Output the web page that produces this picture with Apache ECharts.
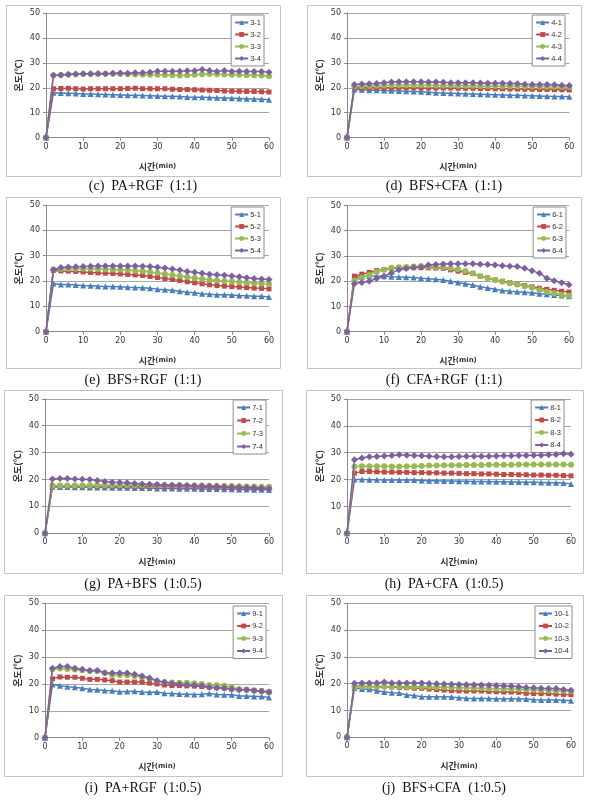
<!DOCTYPE html>
<html><head><meta charset="utf-8">
<script src="https://cdn.jsdelivr.net/npm/echarts@6/dist/echarts.min.js"></script>
<style>html,body{margin:0;padding:0;background:#fff}#c{width:592px;height:801px}</style>
</head><body><div id="c"></div>
<script>
const times = [0,2,4,6,8,10,12,14,16,18,20,22,24,26,28,30,32,34,36,38,40,42,44,46,48,50,52,54,56,58,60];
const yTicks = [0,10,20,30,40,50];
const xTicks = [0,10,20,30,40,50,60];

const s3_1 = [0,18.0,17.9,17.8,17.7,17.5,17.5,17.4,17.3,17.2,17.1,17.0,17.0,16.9,16.8,16.7,16.6,16.6,16.5,16.3,16.2,16.2,16.1,16.0,15.9,15.8,15.7,15.6,15.5,15.4,15.2];
const s3_2 = [0,19.6,19.7,19.8,19.6,19.5,19.6,19.6,19.6,19.6,19.6,19.7,19.8,19.6,19.6,19.6,19.6,19.4,19.3,19.3,19.2,19.1,19.0,18.9,18.7,18.6,18.6,18.5,18.5,18.4,18.3];
const s3_3 = [0,24.9,25.1,25.3,25.4,25.5,25.5,25.5,25.6,25.6,25.5,25.4,25.3,25.3,25.2,25.2,25.1,25.0,24.9,25.0,25.2,25.4,25.5,25.4,25.3,25.2,25.2,25.0,25.0,24.9,24.6];
const s3_4 = [0,25.0,25.1,25.3,25.5,25.6,25.6,25.7,25.6,25.8,25.9,25.8,26.0,26.0,26.2,26.6,26.6,26.6,26.6,26.8,26.8,27.3,26.9,26.5,26.9,26.5,26.6,26.5,26.5,26.5,26.2];

const s4_1 = [0,19.3,19.2,19.0,19.0,18.9,18.8,18.7,18.6,18.5,18.4,18.2,18.0,17.9,17.8,17.7,17.6,17.5,17.4,17.3,17.2,17.1,17.0,17.0,16.9,16.8,16.7,16.6,16.5,16.5,16.4];
const s4_2 = [0,20.0,20.0,20.0,20.0,20.0,20.0,20.0,20.0,20.0,19.9,19.9,19.9,19.9,19.9,19.8,19.8,19.8,19.7,19.7,19.6,19.6,19.5,19.5,19.4,19.4,19.3,19.3,19.2,19.2,19.1];
const s4_3 = [0,20.5,20.6,20.7,20.8,20.9,21.0,21.0,21.0,21.0,21.0,21.0,20.9,20.9,20.9,20.8,20.8,20.8,20.7,20.7,20.7,20.6,20.6,20.6,20.5,20.5,20.5,20.4,20.4,20.3,20.3];
const s4_4 = [0,21.3,21.5,21.6,21.7,22.0,22.3,22.4,22.4,22.4,22.4,22.3,22.3,22.2,22.0,22.0,22.0,22.0,21.9,21.8,21.8,21.8,21.7,21.6,21.4,21.3,21.3,21.3,21.2,21.0,20.9];

const s5_1 = [0,19.0,18.6,18.6,18.4,18.2,18.1,17.9,17.8,17.8,17.7,17.5,17.4,17.3,17.1,16.8,16.6,16.4,16.0,15.6,15.4,15.0,14.8,14.6,14.6,14.5,14.3,14.2,14.0,14.0,13.7];
const s5_2 = [0,24.2,24.0,23.9,23.8,23.6,23.4,23.2,23.1,23.0,22.8,22.6,22.4,22.2,21.8,21.4,21.0,20.6,20.2,19.7,19.3,18.9,18.5,18.2,18.0,17.8,17.6,17.4,17.2,17.1,16.9];
const s5_3 = [0,24.5,24.7,24.8,24.8,24.8,24.8,24.7,24.6,24.5,24.4,24.3,24.1,23.9,23.6,23.2,22.8,22.4,22.0,21.6,21.2,20.8,20.5,20.2,20.0,19.8,19.6,19.3,19.1,18.9,18.8];
const s5_4 = [0,24.4,25.3,25.5,25.6,25.7,25.8,25.9,25.9,25.9,25.9,25.9,25.9,25.8,25.7,25.4,25.1,24.7,24.3,23.8,23.5,23.1,22.7,22.5,22.3,22.0,21.7,21.3,21.0,20.8,20.6];

const s6_1 = [0,21.5,21.8,22.1,22.1,22.0,21.8,21.7,21.6,21.5,21.2,21.0,20.8,20.5,20.0,19.5,19.0,18.5,17.8,17.3,16.8,16.3,16.0,15.8,15.6,15.4,15.0,14.8,14.5,14.3,14.0];
const s6_2 = [0,22.0,22.8,23.5,24.2,24.6,25.0,25.2,25.3,25.4,25.4,25.3,25.2,25.1,24.5,24.0,23.5,23.0,22.0,21.3,20.6,20.0,19.4,18.8,18.3,17.8,17.2,16.8,16.4,16.0,15.7];
const s6_3 = [0,20.3,21.5,22.5,23.8,24.5,25.3,25.5,25.6,25.8,26.0,25.8,25.6,25.5,25.1,24.7,24.0,23.2,22.0,21.3,20.5,19.8,19.2,18.7,18.0,17.5,16.5,15.8,15.2,14.6,14.2];
const s6_4 = [0,19.0,19.5,20.0,21.1,22.0,23.2,24.5,25.0,25.4,25.5,26.4,26.6,26.8,26.9,26.9,26.9,26.9,26.7,26.6,26.4,26.1,25.9,25.8,25.1,24.1,23.2,21.2,20.2,19.4,18.6];

const s7_1 = [0,17.3,17.2,17.2,17.1,17.1,17.0,17.0,17.0,16.9,16.9,16.9,16.8,16.8,16.8,16.7,16.7,16.7,16.6,16.6,16.6,16.5,16.5,16.5,16.4,16.4,16.3,16.3,16.2,16.2,16.1];
const s7_2 = [0,17.7,17.6,17.6,17.6,17.6,17.6,17.6,17.6,17.6,17.5,17.5,17.5,17.4,17.4,17.4,17.3,17.3,17.3,17.2,17.2,17.1,17.1,17.0,17.0,16.9,16.9,16.8,16.8,16.7,16.7];
const s7_3 = [0,17.8,17.8,17.8,17.8,17.8,17.8,17.9,17.9,17.9,17.9,17.9,17.9,17.9,17.9,17.9,17.9,17.9,17.9,17.8,17.8,17.8,17.7,17.7,17.6,17.6,17.5,17.4,17.4,17.3,17.3];
const s7_4 = [0,20.2,20.4,20.4,20.2,20.1,20.0,19.6,19.3,19.0,18.9,18.8,18.5,18.3,18.2,18.1,18.0,17.9,17.9,17.8,17.7,17.6,17.5,17.4,17.3,17.2,17.1,17.0,16.9,16.8,16.7];

const s8_1 = [0,20.0,20.0,19.9,19.9,19.8,19.8,19.8,19.8,19.8,19.7,19.6,19.6,19.5,19.5,19.4,19.4,19.3,19.3,19.3,19.2,19.2,19.1,19.1,19.0,19.0,18.9,18.8,18.8,18.7,18.4];
const s8_2 = [0,22.4,23.0,23.0,22.9,22.8,22.8,22.7,22.7,22.6,22.6,22.5,22.5,22.4,22.4,22.3,22.2,22.2,22.1,22.1,22.0,21.9,21.9,21.8,21.8,21.7,21.7,21.6,21.6,21.5,21.4];
const s8_3 = [0,24.8,25.0,25.0,25.0,25.0,24.9,24.9,25.0,25.0,25.1,25.2,25.2,25.3,25.3,25.3,25.4,25.4,25.4,25.5,25.5,25.5,25.5,25.6,25.6,25.6,25.6,25.6,25.6,25.6,25.5];
const s8_4 = [0,27.4,28.0,28.5,28.6,28.8,29.0,29.2,29.1,29.0,28.9,28.7,28.6,28.5,28.5,28.6,28.7,28.7,28.7,28.7,28.8,28.9,28.9,29.0,29.0,29.1,29.1,29.2,29.3,29.6,29.4];

const s9_1 = [0,19.8,19.3,19.0,18.8,18.4,17.9,17.8,17.6,17.5,17.1,17.2,17.3,17.0,16.9,17.0,16.5,16.4,16.3,16.2,16.1,16.2,16.4,16.1,16.0,16.0,15.5,15.5,15.3,15.3,15.0];
const s9_2 = [0,21.9,22.6,22.5,22.5,22.1,21.7,21.7,21.5,21.2,20.7,20.7,20.7,20.6,20.3,20.0,19.6,19.4,19.4,19.3,19.2,19.0,18.8,18.6,18.5,18.1,17.9,17.8,17.6,17.4,17.0];
const s9_3 = [0,25.5,25.7,25.6,25.4,25.1,24.8,24.8,24.1,23.3,23.3,23.2,23.0,22.5,22.0,21.2,20.7,20.5,20.4,20.4,20.3,20.0,19.6,19.5,19.3,18.8,18.0,17.8,17.5,17.3,16.9];
const s9_4 = [0,25.8,26.5,26.5,25.8,25.5,25.0,25.0,24.2,24.1,24.1,24.1,23.6,23.0,22.2,21.1,20.6,20.2,19.9,19.6,19.5,19.3,18.8,18.6,18.4,18.0,17.8,17.8,17.6,17.3,17.0];

const s10_1 = [0,18.4,18.0,17.9,17.4,16.9,16.6,16.5,15.8,15.6,15.1,15.1,15.1,15.1,15.0,14.8,14.6,14.5,14.5,14.5,14.4,14.4,14.4,14.4,14.3,14.0,13.9,13.9,13.9,13.8,13.6];
const s10_2 = [0,19.3,19.0,19.0,18.8,18.9,18.8,18.6,18.5,18.3,18.3,18.0,17.8,17.6,17.4,17.3,17.3,17.3,17.3,17.1,17.0,16.9,16.9,16.8,16.4,16.3,16.3,16.3,16.1,16.0,15.9];
const s10_3 = [0,18.8,19.0,19.0,19.0,19.0,19.0,19.0,18.9,18.9,18.8,18.8,18.7,18.7,18.6,18.5,18.4,18.4,18.3,18.2,18.1,18.0,18.0,17.9,17.8,17.7,17.6,17.5,17.4,17.3,17.2];
const s10_4 = [0,20.2,20.3,20.3,20.3,20.6,20.3,20.3,20.3,20.3,20.3,20.1,20.0,19.9,19.8,19.7,19.6,19.6,19.5,19.4,19.3,19.2,19.1,18.9,18.6,18.5,18.3,18.2,18.2,17.8,17.6];

const captions = ['(c)  PA+RGF  (1:1)','(d)  BFS+CFA  (1:1)','(e)  BFS+RGF  (1:1)','(f)  CFA+RGF  (1:1)',
                  '(g)  PA+BFS  (1:0.5)','(h)  PA+CFA  (1:0.5)','(i)  PA+RGF  (1:0.5)','(j)  BFS+CFA  (1:0.5)'];
const seriesNames = [
  ['3-1','3-2','3-3','3-4'],['4-1','4-2','4-3','4-4'],['5-1','5-2','5-3','5-4'],['6-1','6-2','6-3','6-4'],
  ['7-1','7-2','7-3','7-4'],['8-1','8-2','8-3','8-4'],['9-1','9-2','9-3','9-4'],['10-1','10-2','10-3','10-4']];
const seriesData = [
  [s3_1,s3_2,s3_3,s3_4],[s4_1,s4_2,s4_3,s4_4],[s5_1,s5_2,s5_3,s5_4],[s6_1,s6_2,s6_3,s6_4],
  [s7_1,s7_2,s7_3,s7_4],[s8_1,s8_2,s8_3,s8_4],[s9_1,s9_2,s9_3,s9_4],[s10_1,s10_2,s10_3,s10_4]];

// layout (positions only)
const layout = [
  {g:[46,13,223,124.6],  b:[6,5,274,171],    c:[143,186], l:[328,15], gap:3},
  {g:[347,13,222.3,124.6],b:[307,5,274,171], c:[444,186], l:[27,15], gap:3},
  {g:[46,205,223,126.7], b:[6,197,274,171],  c:[143,380], l:[328,207], gap:3},
  {g:[347,205.5,222,126.2],b:[307,197,274,171],c:[444,380], l:[26,207], gap:3},
  {g:[45,398.8,224,134.5],b:[4,390,278,183], c:[143,584], l:[326,400], gap:4},
  {g:[347,399,224,134.3],b:[306,390,277,183],c:[444,584], l:[28,400], gap:3.5},
  {g:[45,603.3,224,134.4],b:[4,595,278,181], c:[143,788], l:[326,606], gap:3.5},
  {g:[347,603.3,224,134],b:[306,595,277,181],c:[444,788], l:[20,606], gap:3.5}
];
const colors = ['#4A7EBB','#BE4B48','#98B954','#7D60A0'];
const symbols = ['triangle','rect','circle','diamond'];
const symSizes = [6,5,6,7];

const grid=[],xAxis=[],yAxis=[],series=[],legend=[],graphic=[];
layout.forEach((L,i)=>{
  grid.push({left:L.g[0],top:L.g[1],width:L.g[2],height:L.g[3],containLabel:false});
  xAxis.push({gridIndex:i,type:'value',min:xTicks[0],max:xTicks[xTicks.length-1],interval:10,
    axisLine:{show:true,onZero:false,lineStyle:{color:'#8a8a8a',width:1}},
    axisTick:{show:true,length:3,inside:false,lineStyle:{color:'#8a8a8a'}},
    splitLine:{show:false},
    axisLabel:{fontSize:8,color:'#333',margin:5,fontFamily:'DejaVu Sans'},
    name:'{a|시간}{b|(min)}',nameLocation:'middle',nameGap:24,
    nameTextStyle:{rich:{a:{fontSize:9,fontWeight:'bold',color:'#333',fontFamily:'Noto Sans CJK KR'},b:{fontSize:7,fontWeight:'bold',color:'#333',fontFamily:'DejaVu Sans'}}}
  });
  yAxis.push({gridIndex:i,type:'value',min:yTicks[0],max:yTicks[yTicks.length-1],interval:10,
    axisLine:{show:true,lineStyle:{color:'#8a8a8a',width:1}},
    axisTick:{show:true,length:3,lineStyle:{color:'#8a8a8a'}},
    splitLine:{show:true,lineStyle:{color:'#a6a6a6',width:1}},
    axisLabel:{fontSize:8,color:'#333',margin:6,fontFamily:'DejaVu Sans'},
    name:'온도(℃)',nameLocation:'middle',nameGap:23,nameRotate:90,
    nameTextStyle:{fontSize:9,fontWeight:'bold',color:'#333',fontFamily:'Noto Sans CJK KR'}
  });
  seriesNames[i].forEach((nm,k)=>{
    series.push({type:'line',name:nm,xAxisIndex:i,yAxisIndex:i,
      data:times.map((t,j)=>[t,seriesData[i][k][j]]),
      symbol:symbols[k],symbolSize:symSizes[k],showSymbol:true,
      lineStyle:{color:colors[k],width:1.5},itemStyle:{color:colors[k]},
      animation:false,z:2+k});
  });
  legend.push({data:seriesNames[i],orient:'vertical',right:L.l[0],top:L.l[1],
    itemWidth:13,itemHeight:6,itemGap:L.gap,padding:[3,3,3,3],
    borderColor:'#8c8c8c',borderWidth:1,backgroundColor:'#fff',
    textStyle:{fontSize:7.5,lineHeight:9,color:'#333',fontFamily:'Liberation Sans',padding:[0,0,0,-3]}});
  graphic.push({type:'rect',shape:{x:L.b[0]+0.5,y:L.b[1]+0.5,width:L.b[2],height:L.b[3]},
    style:{fill:null,stroke:'#c4c4c4',lineWidth:1},z:-1});
  graphic.push({type:'text',x:L.c[0],y:L.c[1],style:{text:captions[i],font:'14px "Liberation Serif"',fill:'#111',
    textAlign:'center',textVerticalAlign:'middle'}});
});

const chart = echarts.init(document.getElementById('c'),null,{renderer:'canvas'});
chart.setOption({backgroundColor:'#fff',animation:false,grid,xAxis,yAxis,series,legend,graphic});
</script></body></html>
